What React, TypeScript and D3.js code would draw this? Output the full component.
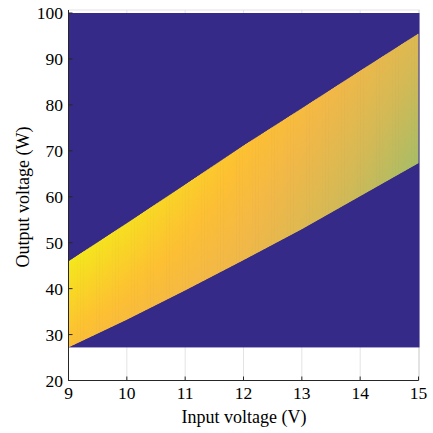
import React from 'react';
import * as d3 from 'd3';

// Band boundaries (valid operating region)
const xVals = [9, 10, 11, 12, 13, 14, 15];
const upperY = [46.0, 54.3, 62.7, 71.2, 79.3, 87.5, 95.6];
const lowerY = [27.2, 33.2, 39.6, 46.2, 52.9, 60.1, 67.3];
// Normalised colour value along the top and bottom edge of the band
const topVal = [1.0, 0.975, 0.94, 0.905, 0.87, 0.835, 0.8];
const botVal = [0.89, 0.875, 0.86, 0.84, 0.8, 0.755, 0.7];
// Colormap stops
const cmapVals = [0.7, 0.78, 0.85, 0.9, 0.95, 1.0];
const cmapCols = ['#a8bd66', '#d5b955', '#f2b847', '#fdbf33', '#f9d426', '#f4e81c'];
const bgColor = '#352a87';
const mapMinY = 27.2;

const xTicks = [9, 10, 11, 12, 13, 14, 15];
const yTicks = [20, 30, 40, 50, 60, 70, 80, 90, 100];

export default function App() {
  const W = 433, H = 433;
  const x = d3.scaleLinear().domain([9, 15]).range([68.5, 418.5]);
  const y = d3.scaleLinear().domain([20, 100]).range([380.5, 13]);
  const upF = d3.scaleLinear().domain(xVals).range(upperY);
  const loF = d3.scaleLinear().domain(xVals).range(lowerY);
  const tvF = d3.scaleLinear().domain(xVals).range(topVal);
  const bvF = d3.scaleLinear().domain(xVals).range(botVal);
  const cmap = d3.scaleLinear<string>().domain(cmapVals).range(cmapCols).interpolate(d3.interpolateRgb).clamp(true);

  const band = xVals.map((v, i) => ({ x: v, lo: lowerY[i], hi: upperY[i] }));
  const areaPath = d3.area<any>().x(d => x(d.x)).y0(d => y(d.lo)).y1(d => y(d.hi))(band) || '';

  const n = 240;
  const step = 6 / n;
  const strips = d3.range(n).map(i => {
    const x0 = 9 + i * step;
    const xm = x0 + step / 2;
    return { i, x0, lo: loF(xm), hi: upF(xm), tv: tvF(xm), bv: bvF(xm) };
  });
  const nStops = 6;

  const font = '"Liberation Serif", "Times New Roman", serif';
  const gridCol = '#e3e3e3';
  const axisCol = '#262626';

  return (
    <svg width={W} height={H} style={{ position: 'absolute', left: 0, top: 0, background: '#fff' }} fontFamily={font}>
      <defs>
        <clipPath id="bandClip"><path d={areaPath} /></clipPath>
        {strips.map(s => (
          <linearGradient key={s.i} id={`g${s.i}`} x1="0" y1="1" x2="0" y2="0">
            {d3.range(nStops).map(k => (
              <stop key={k} offset={k / (nStops - 1)} stopColor={cmap(s.bv + (s.tv - s.bv) * k / (nStops - 1))} />
            ))}
          </linearGradient>
        ))}
      </defs>
      {/* grid */}
      {xTicks.map(t => (
        <line key={'gx' + t} x1={x(t)} x2={x(t)} y1={10} y2={380.5} stroke={gridCol} strokeWidth={1} />
      ))}
      <line x1={68.5} x2={419.5} y1={10} y2={10} stroke={gridCol} />
      <line x1={419.5} x2={419.5} y1={10} y2={380.5} stroke={gridCol} />
      {/* background of the map */}
      <rect x={x(9)} y={y(100)} width={x(15) - x(9) + 1} height={y(mapMinY) - y(100)} fill={bgColor} />
      {/* band */}
      <g clipPath="url(#bandClip)">
        {strips.map(s => (
          <rect key={s.i} x={x(s.x0)} width={x(s.x0 + step) - x(s.x0) + 0.7}
            y={y(s.hi)} height={y(s.lo) - y(s.hi)} fill={`url(#g${s.i})`} />
        ))}
      </g>
      {/* axes */}
      <line x1={68.5} x2={68.5} y1={10} y2={380.5} stroke={axisCol} />
      <line x1={68.5} x2={418.5} y1={380.5} y2={380.5} stroke={axisCol} />
      {xTicks.map(t => (
        <g key={'xt' + t}>
          <line x1={x(t)} x2={x(t)} y1={380.5} y2={376.5} stroke={axisCol} />
          <text x={x(t)} y={399} textAnchor="middle" fontSize={17.5} fill="#000">{t}</text>
        </g>
      ))}
      {yTicks.map(t => (
        <g key={'yt' + t}>
          <line x1={68.5} x2={72.5} y1={y(t)} y2={y(t)} stroke={axisCol} />
          <text x={63} y={y(t) + 6} textAnchor="end" fontSize={17.5} fill="#000">{t}</text>
        </g>
      ))}
      <text x={244} y={423} textAnchor="middle" fontSize={18} fill="#000">Input voltage (V)</text>
      <text transform={`translate(29,${197}) rotate(-90)`} textAnchor="middle" fontSize={18} fill="#000">Output voltage (W)</text>
    </svg>
  );
}
